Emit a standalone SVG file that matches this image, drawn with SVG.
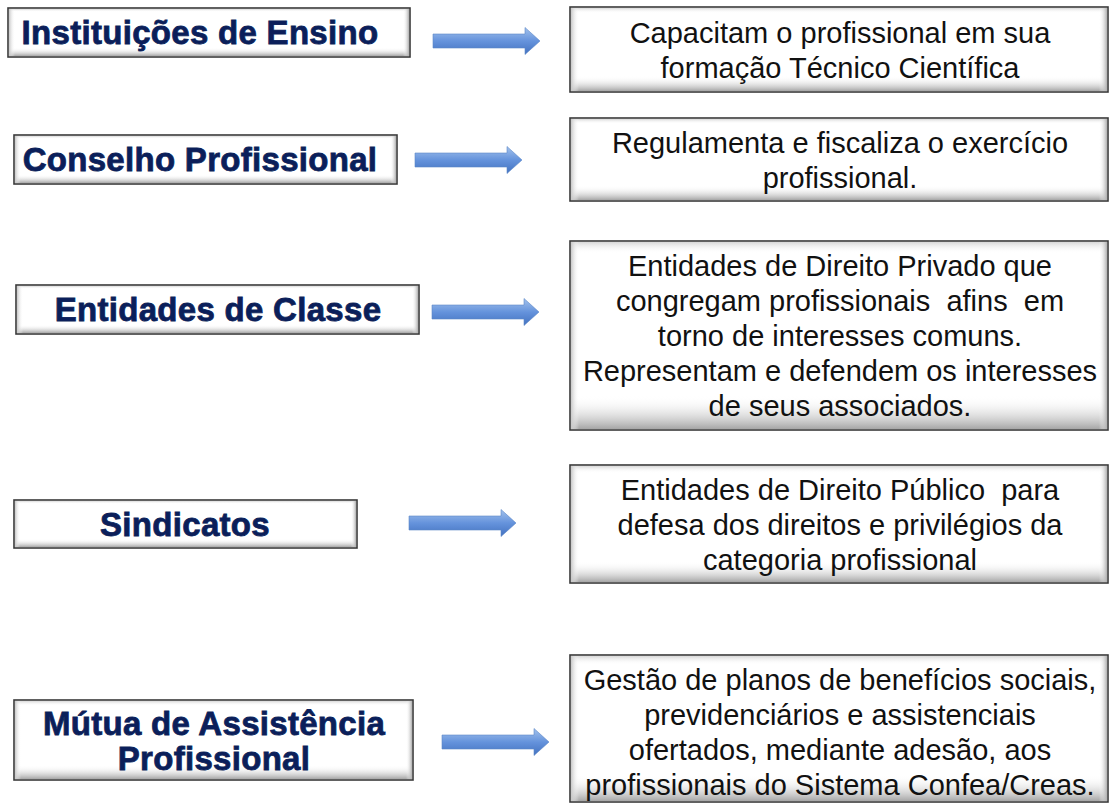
<svg xmlns="http://www.w3.org/2000/svg" width="1110" height="803" viewBox="0 0 1110 803">
<defs>
<linearGradient id="bevV" x1="0" y1="0" x2="0" y2="1">
<stop offset="0" stop-color="#d8d8d8"/>
<stop offset="0.06" stop-color="#ffffff" stop-opacity="0"/>
<stop offset="0.82" stop-color="#ffffff" stop-opacity="0"/>
<stop offset="1" stop-color="#a6a6a6"/>
</linearGradient>
<linearGradient id="bevH" x1="0" y1="0" x2="1" y2="0">
<stop offset="0" stop-color="#c8c8c8"/>
<stop offset="0.015" stop-color="#ffffff" stop-opacity="0"/>
<stop offset="0.985" stop-color="#ffffff" stop-opacity="0"/>
<stop offset="1" stop-color="#b0b0b0"/>
</linearGradient>
<linearGradient id="arrG" x1="0" y1="0" x2="0" y2="1">
<stop offset="0" stop-color="#a3c2ec"/>
<stop offset="0.5" stop-color="#6593dc"/>
<stop offset="1" stop-color="#4372c0"/>
</linearGradient>
<path id="arr" d="M0,-7 H92 V-13.5 L107,0 L92,13.5 V7 H0 Z"/>
</defs>
<style>
.bx{fill:#ffffff;stroke:#3a3a3a;stroke-width:1.6}
.bv{fill:url(#bevV);stroke:none}
.bh{fill:url(#bevH);stroke:none}
.lt{font-family:"Liberation Sans",Arial,sans-serif;font-weight:bold;font-size:33px;fill:#0b1f5a;stroke:#0b1f5a;stroke-width:0.8;text-anchor:middle;letter-spacing:0.3px}
.rt{font-family:"Liberation Sans",Arial,sans-serif;font-size:29px;fill:#111111;text-anchor:middle;white-space:pre}
.ar{fill:url(#arrG);stroke:#5b86c8;stroke-width:0.6}
</style>
<rect width="1110" height="803" fill="#ffffff"/>

<g id="n-inst">
<rect class="bx" x="8" y="8" width="402" height="49"/>
<rect class="bv" x="9" y="9" width="400" height="47"/>
<rect class="bh" x="9" y="9" width="400" height="47"/>
<text class="lt" x="200" y="44">Instituições de Ensino</text>
</g>
<g id="n-cons">
<rect class="bx" x="14" y="135" width="383" height="49"/>
<rect class="bv" x="15" y="136" width="381" height="47"/>
<rect class="bh" x="15" y="136" width="381" height="47"/>
<text class="lt" x="200" y="171">Conselho Profissional</text>
</g>
<g id="n-ent">
<rect class="bx" x="16" y="285" width="403" height="49"/>
<rect class="bv" x="17" y="286" width="401" height="47"/>
<rect class="bh" x="17" y="286" width="401" height="47"/>
<text class="lt" x="218" y="321">Entidades de Classe</text>
</g>
<g id="n-sind">
<rect class="bx" x="14" y="500" width="343" height="48"/>
<rect class="bv" x="15" y="501" width="341" height="46"/>
<rect class="bh" x="15" y="501" width="341" height="46"/>
<text class="lt" x="185" y="536">Sindicatos</text>
</g>
<g id="n-mutua">
<rect class="bx" x="14" y="700" width="399" height="80"/>
<rect class="bv" x="15" y="701" width="397" height="78"/>
<rect class="bh" x="15" y="701" width="397" height="78"/>
<text class="lt" x="214" y="735">Mútua de Assistência</text>
<text class="lt" x="214" y="770">Profissional</text>
</g>

<g id="d-inst">
<rect class="bx" x="570" y="7" width="538" height="85"/>
<rect class="bv" x="571" y="8" width="536" height="83"/>
<rect class="bh" x="571" y="8" width="536" height="83"/>
<text class="rt" x="840" y="43">Capacitam o profissional em sua</text>
<text class="rt" x="840" y="78">formação Técnico Científica</text>
</g>
<g id="d-cons">
<rect class="bx" x="570" y="118" width="538" height="83"/>
<rect class="bv" x="571" y="119" width="536" height="81"/>
<rect class="bh" x="571" y="119" width="536" height="81"/>
<text class="rt" x="840" y="153">Regulamenta e fiscaliza o exercício</text>
<text class="rt" x="840" y="188">profissional.</text>
</g>
<g id="d-ent">
<rect class="bx" x="570" y="241" width="538" height="189"/>
<rect class="bv" x="571" y="242" width="536" height="187"/>
<rect class="bh" x="571" y="242" width="536" height="187"/>
<text class="rt" x="840" y="276">Entidades de Direito Privado que</text>
<text class="rt" x="840" y="311">congregam profissionais  afins  em</text>
<text class="rt" x="840" y="346">torno de interesses comuns.</text>
<text class="rt" x="840" y="381">Representam e defendem os interesses</text>
<text class="rt" x="840" y="416">de seus associados.</text>
</g>
<g id="d-sind">
<rect class="bx" x="570" y="465" width="538" height="118"/>
<rect class="bv" x="571" y="466" width="536" height="116"/>
<rect class="bh" x="571" y="466" width="536" height="116"/>
<text class="rt" x="840" y="500">Entidades de Direito Público  para</text>
<text class="rt" x="840" y="535">defesa dos direitos e privilégios da</text>
<text class="rt" x="840" y="570">categoria profissional</text>
</g>
<g id="d-mutua">
<rect class="bx" x="570" y="655" width="538" height="147"/>
<rect class="bv" x="571" y="656" width="536" height="145"/>
<rect class="bh" x="571" y="656" width="536" height="145"/>
<text class="rt" x="840" y="690">Gestão de planos de benefícios sociais,</text>
<text class="rt" x="840" y="725">previdenciários e assistenciais</text>
<text class="rt" x="840" y="760">ofertados, mediante adesão, aos</text>
<text class="rt" x="840" y="795">profissionais do Sistema Confea/Creas.</text>
</g>

<g id="connectors">
<use href="#arr" class="ar" transform="translate(433,41)"/>
<use href="#arr" class="ar" transform="translate(415,160)"/>
<use href="#arr" class="ar" transform="translate(432,312)"/>
<use href="#arr" class="ar" transform="translate(409,523)"/>
<use href="#arr" class="ar" transform="translate(442,742)"/>
</g>
</svg>
